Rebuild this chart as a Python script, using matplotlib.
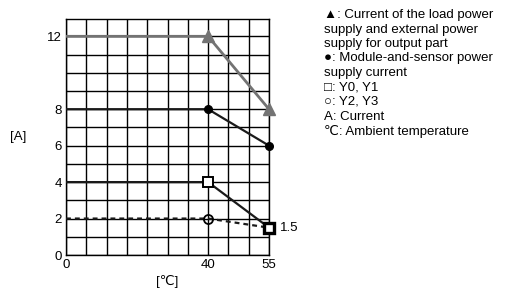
import matplotlib
matplotlib.use("Agg")
import matplotlib.pyplot as plt
import numpy as np

plt.rcParams['font.family'] = ['Liberation Sans', 'DejaVu Sans']

# data
temp = [0, 40, 55]
load_current = [12, 12, 8]
module_current = [8, 8, 6]
y01_current = [4, 4, 1.5]
y23_current = [2, 2, 1.5]
xticks = [0, 40, 55]
yticks = [0, 2, 4, 6, 8, 12]
legend_lines = [
    "▲: Current of the load power",
    "supply and external power",
    "supply for output part",
    "●: Module-and-sensor power",
    "supply current",
    "□: Y0, Y1",
    "○: Y2, Y3",
    "A: Current",
    "℃: Ambient temperature",
]

def fwd(x):
    x = np.asarray(x, dtype=float)
    return np.where(x <= 40, x * 7 / 40, 7 + (x - 40) / 5)

def inv(u):
    u = np.asarray(u, dtype=float)
    return np.where(u <= 7, u * 40 / 7, 40 + (u - 7) * 5)

fig = plt.figure(figsize=(5.07, 2.90), dpi=100)
ax = fig.add_axes([66 / 507, 35 / 290, 203 / 507, 236 / 290])
ax.set_xscale('function', functions=(fwd, inv))
ax.set_xlim(0, 55)
ax.set_ylim(0, 12.95)

# grid
grid_x = list(inv(np.arange(0, 11)))
for gx in grid_x:
    ax.axvline(gx, color='black', lw=1.0, zorder=1)
for gy in range(0, 13):
    ax.axhline(gy, color='black', lw=1.0, zorder=1)
for s in ax.spines.values():
    s.set_linewidth(1.0)

ax.plot(temp, load_current, color='#737373', lw=2.0, zorder=3)
ax.plot(temp[1:], load_current[1:], ls='none', marker='^', ms=8.5, color='#737373',
        zorder=4, clip_on=False)

ax.plot(temp, module_current, color='#1a1a1a', lw=1.6, zorder=3)
ax.plot(temp[1:], module_current[1:], ls='none', marker='o', ms=5.5, color='black',
        zorder=4, clip_on=False)

ax.plot(temp, y01_current, color='#1a1a1a', lw=1.6, zorder=3)
ax.plot(temp[1:2], y01_current[1:2], ls='none', marker='s', ms=6.5, mfc='white', mec='black',
        mew=1.4, zorder=5, clip_on=False)
ax.plot(temp[2:], y01_current[2:], ls='none', marker='s', ms=6.5, mfc='white', mec='black',
        mew=2.4, zorder=5, clip_on=False)

ax.plot(temp, y23_current, color='#1a1a1a', lw=1.6, ls=(0, (2.2, 1.8)), zorder=3)
ax.plot(temp[1:2], y23_current[1:2], ls='none', marker='o', ms=6.5, mfc='none', mec='black',
        mew=1.3, zorder=4)

ax.annotate("1.5", xy=(temp[2], y23_current[2]), xytext=(8, 0), textcoords='offset points',
            va='center', ha='left', fontsize=9.5)

ax.set_xticks(xticks)
ax.set_xticklabels([str(v) for v in xticks])
ax.set_yticks(yticks)
ax.set_yticklabels([str(v) for v in yticks])
ax.tick_params(length=0, labelsize=9.5, pad=3)
ax.xaxis.set_minor_locator(matplotlib.ticker.NullLocator())

fig.text(18 / 507, 1 - 137 / 290, "[A]", fontsize=9.5, ha='center', va='center')
fig.text(167 / 507, 1 - 282 / 290, "[℃]", fontsize=9.5, ha='center', va='center')

y0 = 1 - 15 / 290
for i, line in enumerate(legend_lines):
    fig.text(324 / 507, y0 - i * 14.5 / 290, line, fontsize=9.5, ha='left', va='center')

fig.savefig('out.png', dpi=100)
